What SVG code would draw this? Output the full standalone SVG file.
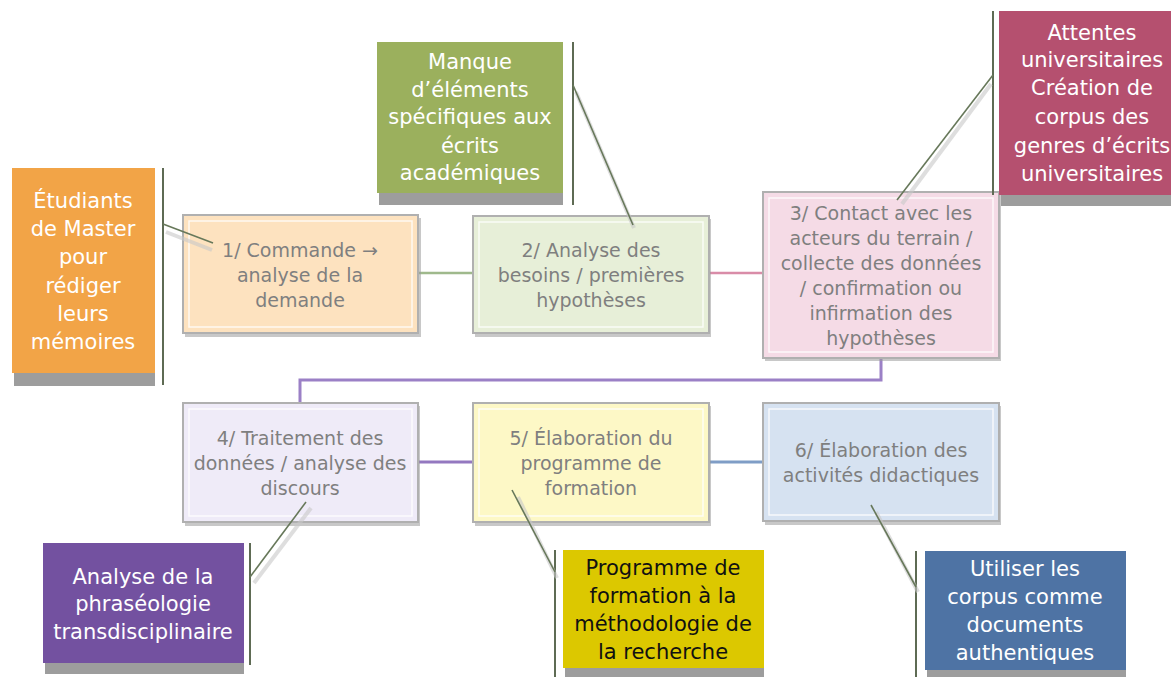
<svg xmlns="http://www.w3.org/2000/svg" width="1171" height="677" viewBox="0 0 1171 677">
<style>
.step{stroke:#b0b0b0;stroke-width:2}
.bev{fill:none;stroke:#ffffff;stroke-opacity:0.8;stroke-width:1.5}
.sh{fill:#9a9a9a;opacity:0.55}
.cs{fill:#9d9d9d}
.st{font-family:"DejaVu Sans",sans-serif;font-size:19px;fill:#7f7f7f;text-anchor:middle}
.ct{font-family:"DejaVu Sans",sans-serif;font-size:21px;fill:#ffffff;text-anchor:middle}
.vl{stroke:#5e6b54;stroke-width:2;fill:none}
.ld{stroke:#67785a;stroke-width:1.6;fill:none}
.lds{stroke:#c8c8c8;stroke-width:4;fill:none;opacity:0.6}
</style>
<rect width="1171" height="677" fill="#ffffff"/>
<g id="connectors">
<line x1="418" y1="273" x2="473" y2="273" stroke="#9fb98c" stroke-width="2.5"/>
<line x1="709" y1="273" x2="763" y2="273" stroke="#d98ca8" stroke-width="2.5"/>
<polyline points="881,358 881,380 300,380 300,403" fill="none" stroke="#9b80c6" stroke-width="3"/>
<line x1="418" y1="462" x2="473" y2="462" stroke="#9478c0" stroke-width="3"/>
<line x1="709" y1="462" x2="763" y2="462" stroke="#7f9dc6" stroke-width="3"/>
</g>
<g id="step1">
<rect class="sh" x="185" y="218" width="236" height="119"/>
<rect class="step" x="183" y="215" width="235" height="118" fill="#fde2bf"/>
<rect class="bev" x="189" y="221" width="223" height="106"/>
<text class="st" x="300" y="257">1/ Commande →</text>
<text class="st" x="300" y="282">analyse de la</text>
<text class="st" x="300" y="307">demande</text>
</g>
<g id="step2">
<rect class="sh" x="475" y="219" width="236" height="118"/>
<rect class="step" x="473" y="216" width="236" height="117" fill="#e7efd8"/>
<rect class="bev" x="479" y="222" width="224" height="105"/>
<text class="st" x="591" y="257">2/ Analyse des</text>
<text class="st" x="591" y="282">besoins / premières</text>
<text class="st" x="591" y="307">hypothèses</text>
</g>
<g id="step3">
<rect class="sh" x="765" y="195" width="236" height="166"/>
<rect class="step" x="763" y="192" width="236" height="166" fill="#f5dbe6"/>
<rect class="bev" x="769" y="198" width="224" height="154"/>
<text class="st" x="881" y="220">3/ Contact avec les</text>
<text class="st" x="881" y="245">acteurs du terrain /</text>
<text class="st" x="881" y="270">collecte des données</text>
<text class="st" x="881" y="295">/ confirmation ou</text>
<text class="st" x="881" y="320">infirmation des</text>
<text class="st" x="881" y="345">hypothèses</text>
</g>
<g id="step4">
<rect class="sh" x="185" y="406" width="235" height="120"/>
<rect class="step" x="183" y="403" width="235" height="119" fill="#efebf8"/>
<rect class="bev" x="189" y="409" width="223" height="107"/>
<text class="st" x="300" y="445">4/ Traitement des</text>
<text class="st" x="300" y="470">données / analyse des</text>
<text class="st" x="300" y="495">discours</text>
</g>
<g id="step5">
<rect class="sh" x="475" y="406" width="236" height="120"/>
<rect class="step" x="473" y="403" width="236" height="119" fill="#fdf8c6"/>
<rect class="bev" x="479" y="409" width="224" height="107"/>
<text class="st" x="591" y="445">5/ Élaboration du</text>
<text class="st" x="591" y="470">programme de</text>
<text class="st" x="591" y="495">formation</text>
</g>
<g id="step6">
<rect class="sh" x="765" y="406" width="236" height="119"/>
<rect class="step" x="763" y="403" width="236" height="118" fill="#d6e2f1"/>
<rect class="bev" x="769" y="409" width="224" height="106"/>
<text class="st" x="881" y="457">6/ Élaboration des</text>
<text class="st" x="881" y="482">activités didactiques</text>
</g>
<g id="calloutA">
<rect class="cs" x="14" y="170" width="141" height="216"/>
<rect x="12" y="168" width="143" height="205" fill="#f2a447"/>
<line class="vl" x1="163" y1="168" x2="163" y2="385"/>
<line class="lds" x1="166" y1="232" x2="212" y2="250"/>
<line class="ld" x1="163" y1="224" x2="213" y2="243"/>
<text class="ct" x="83" y="208">Étudiants</text>
<text class="ct" x="83" y="236">de Master</text>
<text class="ct" x="83" y="264">pour</text>
<text class="ct" x="83" y="293">rédiger</text>
<text class="ct" x="83" y="321">leurs</text>
<text class="ct" x="83" y="349">mémoires</text>
</g>
<g id="calloutB">
<rect class="cs" x="379" y="44" width="184" height="161"/>
<rect x="377" y="42" width="186" height="151" fill="#9bb05d"/>
<line class="vl" x1="573" y1="42" x2="573" y2="205"/>
<line class="lds" x1="576" y1="92" x2="634" y2="228"/>
<line class="ld" x1="573" y1="85" x2="633" y2="225"/>
<text class="ct" x="470" y="69">Manque</text>
<text class="ct" x="470" y="97">d’éléments</text>
<text class="ct" x="470" y="124">spécifiques aux</text>
<text class="ct" x="470" y="153">écrits</text>
<text class="ct" x="470" y="180">académiques</text>
</g>
<g id="calloutC">
<rect class="cs" x="1001" y="13" width="170" height="193"/>
<rect x="999" y="11" width="172" height="184" fill="#b5506f"/>
<line class="vl" x1="993" y1="11" x2="993" y2="195"/>
<line class="lds" x1="991" y1="84" x2="902" y2="204"/>
<line class="ld" x1="993" y1="75" x2="897" y2="200"/>
<text class="ct" x="1092" y="40">Attentes</text>
<text class="ct" x="1092" y="67">universitaires</text>
<text class="ct" x="1092" y="95">Création de</text>
<text class="ct" x="1092" y="124">corpus des</text>
<text class="ct" x="1092" y="153">genres d’écrits</text>
<text class="ct" x="1092" y="181">universitaires</text>
</g>
<g id="calloutD">
<rect class="cs" x="45" y="545" width="199" height="129"/>
<rect x="43" y="543" width="201" height="120" fill="#7351a0"/>
<line class="vl" x1="250" y1="543" x2="250" y2="665"/>
<line class="lds" x1="254" y1="583" x2="311" y2="508"/>
<line class="ld" x1="250" y1="577" x2="306" y2="502"/>
<text class="ct" x="143" y="584">Analyse de la</text>
<text class="ct" x="143" y="611">phraséologie</text>
<text class="ct" x="143" y="639">transdisciplinaire</text>
</g>
<g id="calloutE">
<rect class="cs" x="565" y="552" width="199" height="125"/>
<rect x="563" y="550" width="201" height="118" fill="#dcc800"/>
<line class="vl" x1="555" y1="550" x2="555" y2="677"/>
<line class="lds" x1="518" y1="497" x2="557" y2="578"/>
<line class="ld" x1="512" y1="490" x2="555" y2="572"/>
<text class="ct" x="663" y="575" style="fill:#111111">Programme de</text>
<text class="ct" x="663" y="603" style="fill:#111111">formation à la</text>
<text class="ct" x="663" y="631" style="fill:#111111">méthodologie de</text>
<text class="ct" x="663" y="659" style="fill:#111111">la recherche</text>
</g>
<g id="calloutF">
<rect class="cs" x="927" y="553" width="199" height="124"/>
<rect x="925" y="551" width="201" height="119" fill="#4e73a4"/>
<line class="vl" x1="916" y1="551" x2="916" y2="677"/>
<line class="lds" x1="876" y1="512" x2="918" y2="592"/>
<line class="ld" x1="871" y1="505" x2="916" y2="587"/>
<text class="ct" x="1025" y="576">Utiliser les</text>
<text class="ct" x="1025" y="604">corpus comme</text>
<text class="ct" x="1025" y="632">documents</text>
<text class="ct" x="1025" y="660">authentiques</text>
</g>
</svg>
